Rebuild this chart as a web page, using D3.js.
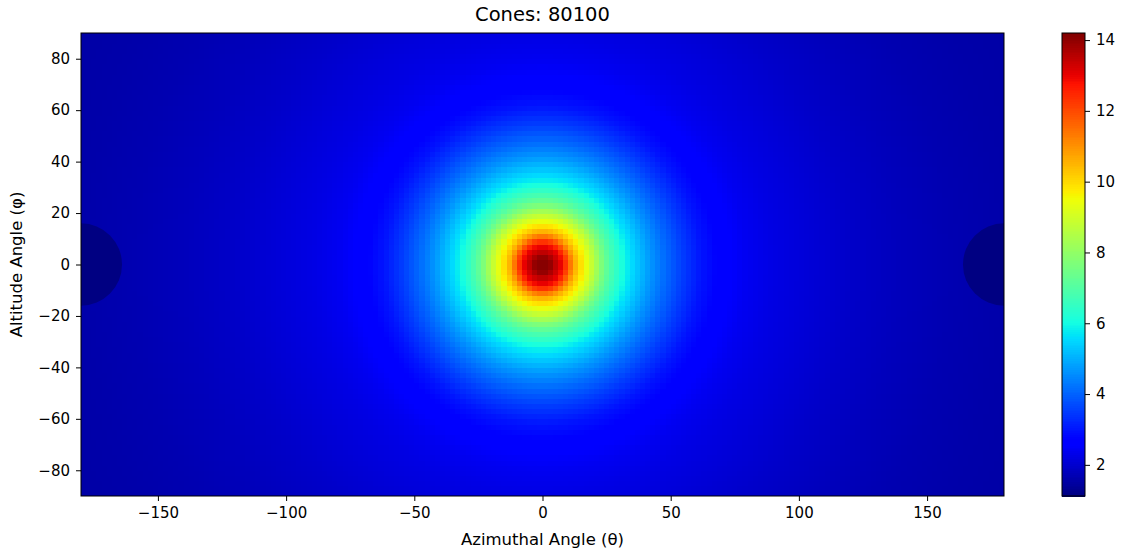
<!DOCTYPE html>
<html>
<head>
<meta charset="utf-8">
<script src="https://cdn.jsdelivr.net/npm/d3@7"></script>
<style>
  body { margin: 0; background: #fff; }
  text { font-family: "DejaVu Sans", sans-serif; fill: #000; }
</style>
</head>
<body>
<svg id="chart" width="1133" height="552"></svg>
<script>
// Radial profile: value vs distance (deg) from (θ=0, φ=0)
const profileDist = [0, 3, 5, 8, 10, 12, 14, 17, 20, 23, 26, 30, 33, 37, 42, 48, 55, 62, 70, 80, 90, 100, 110, 120, 140, 160, 180, 202];
const profileVal  = [14.2, 14.0, 13.5, 12.8, 11.9, 10.9, 10.2, 9.4, 8.6, 7.7, 7.0, 6.3, 5.8, 5.3, 4.7, 4.1, 3.5, 3.0, 2.65, 2.4, 2.25, 2.15, 2.05, 1.95, 1.8, 1.68, 1.6, 1.55];

// dark patches at the back direction
const spotTheta = [-180, 180];
const spotRadius = 16;
const spotValue = 1.15;

const cellSize = 2;
const thetaStarts = d3.range(-180, 180, cellSize);
const phiStarts = d3.range(-90, 90, cellSize);

const colorTicks = [2, 4, 6, 8, 10, 12, 14];
const xTicks = [-150, -100, -50, 0, 50, 100, 150];
const yTicks = [-80, -60, -40, -20, 0, 20, 40, 60, 80];
const vmin = 1.12, vmax = 14.2;

const svg = d3.select("#chart");
const margin = { left: 81, top: 33, right: 1004, bottom: 496 };

const x = d3.scaleLinear().domain([-180, 180]).range([margin.left, margin.right]);
const y = d3.scaleLinear().domain([-90, 90]).range([margin.bottom, margin.top]);

const profile = d3.scaleLinear().domain(profileDist).range(profileVal).clamp(true);

// jet colormap
const jR = d3.scaleLinear().domain([0, 0.35, 0.66, 0.89, 1]).range([0, 0, 1, 1, 0.5]).clamp(true);
const jG = d3.scaleLinear().domain([0, 0.125, 0.375, 0.64, 0.91, 1]).range([0, 0, 1, 1, 0, 0]).clamp(true);
const jB = d3.scaleLinear().domain([0, 0.11, 0.34, 0.65, 1]).range([0.5, 1, 1, 0, 0]).clamp(true);
const norm = d3.scaleLinear().domain([vmin, vmax]).clamp(true);
const jet = (v) => {
  const t = norm(v);
  return d3.rgb(jR(t) * 255, jG(t) * 255, jB(t) * 255).formatHex();
};

const cells = [];
phiStarts.forEach((p) => {
  thetaStarts.forEach((t) => {
    const tc = t + cellSize / 2, pc = p + cellSize / 2;
    cells.push({ t, p, v: profile(Math.hypot(tc, pc)) });
  });
});

svg.append("defs").append("clipPath").attr("id", "plot-clip")
  .append("rect")
  .attr("x", margin.left).attr("y", margin.top)
  .attr("width", margin.right - margin.left)
  .attr("height", margin.bottom - margin.top);

const plot = svg.append("g").attr("clip-path", "url(#plot-clip)");

plot.append("g")
  .attr("shape-rendering", "crispEdges")
  .selectAll("rect")
  .data(cells)
  .join("rect")
  .attr("x", (d) => x(d.t))
  .attr("y", (d) => y(d.p + cellSize))
  .attr("width", (d) => x(d.t + cellSize) - x(d.t) + 0.6)
  .attr("height", (d) => y(d.p) - y(d.p + cellSize) + 0.6)
  .attr("fill", (d) => jet(d.v));

// back-direction spots
plot.selectAll("ellipse")
  .data(spotTheta)
  .join("ellipse")
  .attr("cx", (d) => x(d))
  .attr("cy", y(0))
  .attr("rx", x(spotRadius) - x(0))
  .attr("ry", y(0) - y(spotRadius))
  .attr("fill", jet(spotValue));

// frame
svg.append("rect")
  .attr("x", margin.left).attr("y", margin.top)
  .attr("width", margin.right - margin.left)
  .attr("height", margin.bottom - margin.top)
  .attr("fill", "none").attr("stroke", "#000").attr("stroke-width", 1);

const fmt = (d) => d3.format("")(d).replace("-", "\u2212");

// axes
const xAxis = svg.append("g")
  .attr("transform", `translate(0,${margin.bottom})`)
  .call(d3.axisBottom(x).tickValues(xTicks).tickSize(5).tickPadding(6).tickFormat(fmt));
const yAxis = svg.append("g")
  .attr("transform", `translate(${margin.left},0)`)
  .call(d3.axisLeft(y).tickValues(yTicks).tickSize(5).tickPadding(6).tickFormat(fmt));
[xAxis, yAxis].forEach((a) => {
  a.select(".domain").remove();
  a.selectAll("text").style("font-size", "15px").attr("fill", "#000");
  a.selectAll("line").attr("stroke", "#000");
});

// titles
svg.append("text")
  .attr("x", (margin.left + margin.right) / 2).attr("y", 21)
  .attr("text-anchor", "middle").style("font-size", "19.5px")
  .text("Cones: 80100");
svg.append("text")
  .attr("x", (margin.left + margin.right) / 2).attr("y", 545)
  .attr("text-anchor", "middle").style("font-size", "16.5px")
  .text("Azimuthal Angle (θ)");
svg.append("text")
  .attr("transform", `translate(22,${(margin.top + margin.bottom) / 2}) rotate(-90)`)
  .attr("text-anchor", "middle").style("font-size", "16.5px")
  .text("Altitude Angle (φ)");

// colorbar
const cb = { x: 1062, w: 23 };
const cy = d3.scaleLinear().domain([vmin, vmax]).range([margin.bottom, margin.top]);
const steps = d3.range(0, 256);
svg.append("g")
  .attr("shape-rendering", "crispEdges")
  .selectAll("rect")
  .data(steps)
  .join("rect")
  .attr("x", cb.x)
  .attr("width", cb.w)
  .attr("y", (i) => cy(vmin + (i + 1) / 256 * (vmax - vmin)))
  .attr("height", (i) => cy(vmin + i / 256 * (vmax - vmin)) - cy(vmin + (i + 1) / 256 * (vmax - vmin)) + 0.5)
  .attr("fill", (i) => jet(vmin + (i + 0.5) / 256 * (vmax - vmin)));
svg.append("rect")
  .attr("x", cb.x).attr("y", margin.top)
  .attr("width", cb.w).attr("height", margin.bottom - margin.top)
  .attr("fill", "none").attr("stroke", "#000").attr("stroke-width", 1);
const cAxis = svg.append("g")
  .attr("transform", `translate(${cb.x + cb.w},0)`)
  .call(d3.axisRight(cy).tickValues(colorTicks).tickSize(5).tickPadding(6));
cAxis.select(".domain").remove();
cAxis.selectAll("text").style("font-size", "15px").attr("fill", "#000");
cAxis.selectAll("line").attr("stroke", "#000");
</script>
</body>
</html>
